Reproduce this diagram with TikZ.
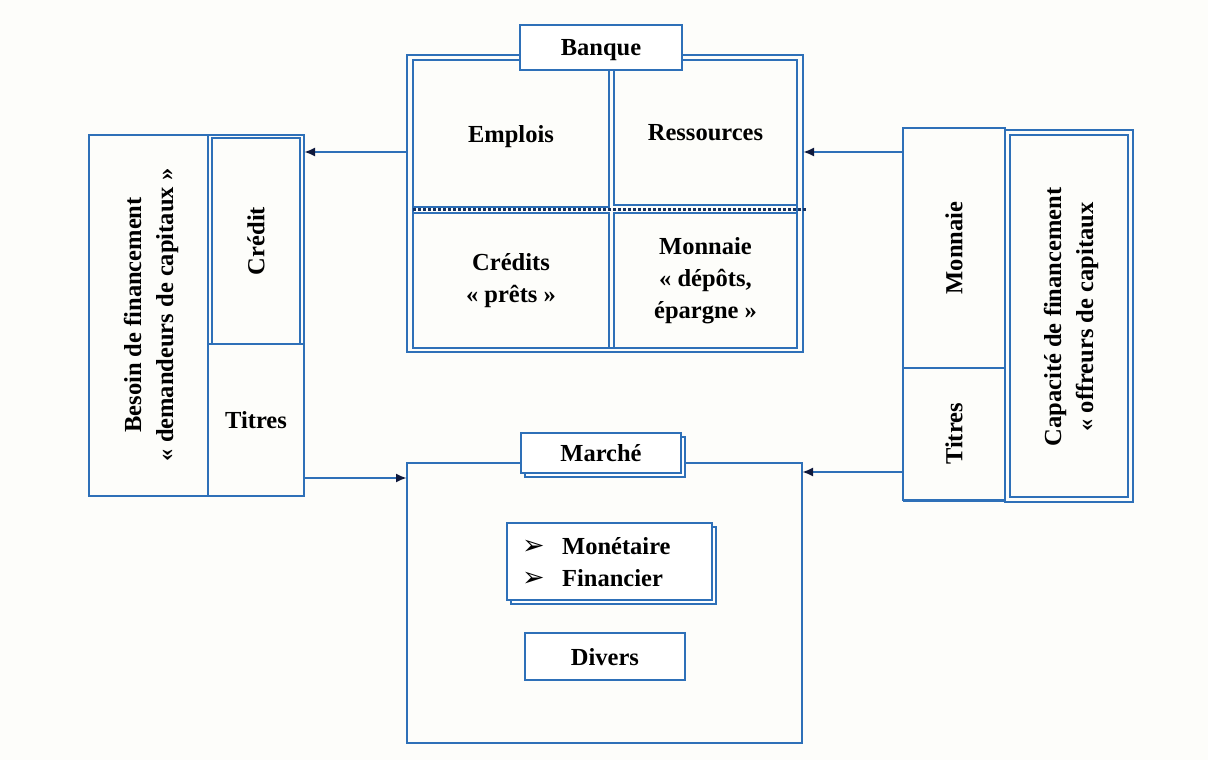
\documentclass[tikz,border=0pt]{standalone}
\usepackage{fontspec}
\setmainfont{Liberation Serif}
\newfontfamily\symfont{DejaVu Sans}
\usetikzlibrary{arrows.meta,shadows}
\definecolor{frameblue}{RGB}{46,112,184}
\definecolor{tipnavy}{RGB}{15,25,60}
\definecolor{paper}{RGB}{253,253,250}
\begin{document}
\begin{tikzpicture}[x=1pt,y=-1pt,
  every node/.style={font=\fontsize{24.5}{32}\selectfont\bfseries, text=black},
  cellbox/.style 2 args={draw=frameblue, line width=1.6pt, minimum width=#1pt,
    minimum height=#2pt, inner sep=0pt, outer sep=0pt, align=center},
  framebox/.style 2 args={draw=frameblue, line width=2.8pt, minimum width=#1pt,
    minimum height=#2pt, inner sep=0pt, outer sep=0pt},
  titlebox/.style 2 args={draw=frameblue, line width=1.7pt, fill=white,
    minimum width=#1pt, minimum height=#2pt, inner sep=0pt, outer sep=0pt},
  shadowed/.style={copy shadow={shadow xshift=4pt, shadow yshift=-4pt}},
  oneline/.style={text depth=0pt},
  thinline/.style={draw=frameblue, line width=1.3pt},
  flow/.style={draw=frameblue, line width=2.2pt,
    -{Latex[length=11pt,width=9pt,color=tipnavy]}}
]
% background
\fill[paper] (0,0) rectangle (1208,760);
\useasboundingbox (0,0) rectangle (1208,760);

% ---------- Banque ----------
\node[framebox={396}{297}] (bank) at (605,203.5) {};
\draw[thinline] (413,60) rectangle (797,348);
\node[cellbox={196}{147}, oneline] (emplois) at (511,133.5) {Emplois};
\node[cellbox={183}{145}, oneline] (ressources) at (705.5,132.5) {Ressources};
\node[cellbox={196}{135}] (credits) at (511,280.5) {Crédits\\« prêts »};
\node[cellbox={183}{135}] (depots) at (705.5,280.5) {Monnaie\\« dépôts,\\épargne »};
\draw[tipnavy!70!frameblue, line width=3pt, dotted] (413,209) -- (806,209);
\node[titlebox={162}{45}, oneline] (banque) at (601,47.5) {Banque};

% ---------- Demandeurs de capitaux ----------
\node[framebox={215}{361}] (lblock) at (196.5,315.5) {};
\draw[frameblue, line width=2.8pt] (208,135) -- (208,496);
\node[rotate=90, align=center, inner sep=0pt] (besoin) at (151,315)
  {Besoin de financement\\« demandeurs de capitaux »};
\node[cellbox={206}{88}, rotate=90] (credit) at (256,241) {Crédit};
\draw[thinline] (304,135) -- (304,496);
\node[cellbox={96}{152}, oneline] (titresL) at (256,420) {Titres};

% ---------- Offreurs de capitaux ----------
\node[cellbox={240}{102}, rotate=90] (monnaie) at (954,248) {Monnaie};
\node[cellbox={132}{102}, rotate=90] (titresR) at (954,434) {Titres};
\draw[frameblue, line width=2.6pt] (903,368) -- (1005,368);
\draw[frameblue, line width=2.6pt] (903,501) -- (1005,501);
\node[framebox={128}{372}] (capacite) at (1069,316) {};
\draw[thinline] (1010,135) rectangle (1128,497);
\node[rotate=90, align=center, inner sep=0pt] (offreurs) at (1071,317)
  {Capacité de financement\\« offreurs de capitaux};

% ---------- Marché ----------
\node[cellbox={395}{280}, line width=2pt] (marche) at (604.5,603) {};
\node[titlebox={160}{40}, shadowed, oneline] (marchetitle) at (601,453) {Marché};
\node[titlebox={205}{77}, shadowed] (segments) at (609.5,561.5) {};
\node[anchor=west, align=left, inner sep=0pt] (segtext) at (522,562)
  {\makebox[40pt][l]{\fontsize{27}{32}\symfont ➢}Monétaire\\
   \makebox[40pt][l]{\fontsize{27}{32}\symfont ➢}Financier};
\node[titlebox={160}{47}, line width=2.8pt, oneline] (divers) at (605,656.5) {Divers};

% ---------- flows ----------
\coordinate (upper) at (0,152);
\coordinate (lowerL) at (0,478);
\coordinate (lowerR) at (0,472);
\draw[flow] (bank.west |- upper) -- (lblock.east |- upper);
\draw[flow] (lblock.east |- lowerL) -- (marche.west |- lowerL);
\draw[flow] (monnaie.north |- upper) -- (bank.east |- upper);
\draw[flow] (titresR.north |- lowerR) -- (marche.east |- lowerR);
\end{tikzpicture}
\end{document}
